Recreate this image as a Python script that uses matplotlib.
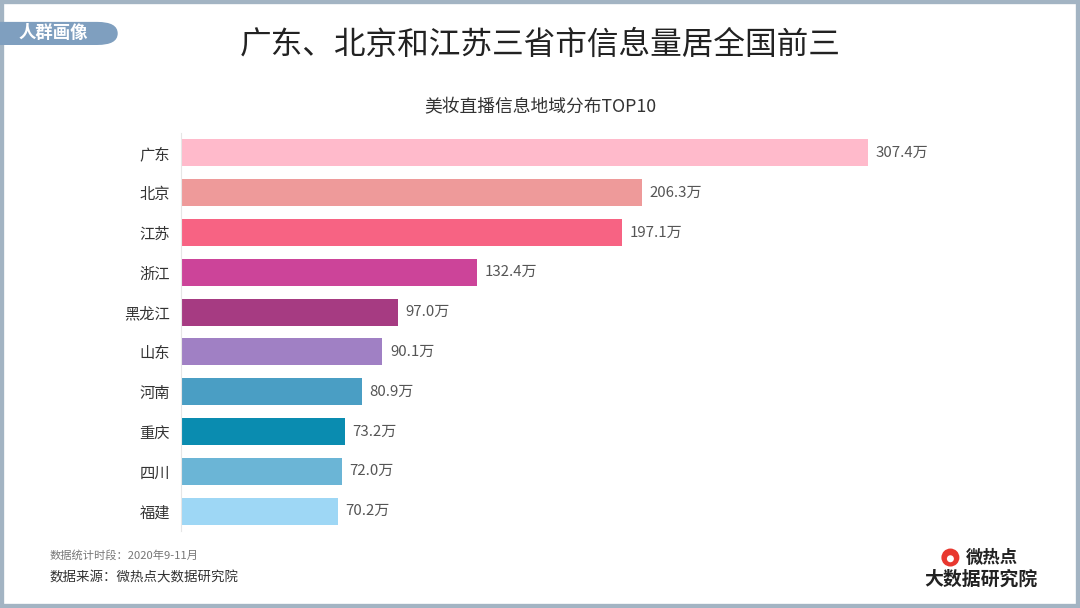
import matplotlib.pyplot as plt
from matplotlib.patches import FancyBboxPatch, Rectangle, Ellipse

plt.rcParams['font.family'] = ['Noto Sans CJK SC', 'DejaVu Sans']

# data
provinces = ['广东', '北京', '江苏', '浙江', '黑龙江', '山东', '河南', '重庆', '四川', '福建']
values = [307.4, 206.3, 197.1, 132.4, 97.0, 90.1, 80.9, 73.2, 72.0, 70.2]
colors = ['#FFBACB', '#EE9A9A', '#F76383', '#CC4499', '#A63B82',
          '#A080C4', '#4A9EC4', '#0A8CB0', '#6BB5D6', '#9ED7F5']

fig = plt.figure(figsize=(10.8, 6.08), dpi=100)
fig.patch.set_facecolor('white')

# frame around the picture
frame_c = '#A3B4C3'
fig.patches.append(Rectangle((0, 0), 1, 1, transform=fig.transFigure,
                             fill=False, edgecolor=frame_c, linewidth=6))

# badge at top left
fig.patches.append(FancyBboxPatch((-0.02, 0.926), 0.129, 0.038,
                                  boxstyle='round,pad=0,rounding_size=0.019',
                                  transform=fig.transFigure,
                                  facecolor='#7F9FBF', edgecolor='none'))
fig.text(0.017, 0.945, '人群画像', color='white', fontsize=12.5,
         fontweight='bold', va='center', ha='left')

fig.text(0.5, 0.926, '广东、北京和江苏三省市信息量居全国前三', fontsize=22.8,
         ha='center', va='center', color='#222222')
fig.text(0.5, 0.824, '美妆直播信息地域分布TOP10', fontsize=12.8,
         ha='center', va='center', color='#333333')

# bars
ax = fig.add_axes([181 / 1080, 1 - 531 / 608, 819 / 1080, 398 / 608])
y = range(len(provinces))
ax.barh(y, values, height=0.68, color=colors)
for i, v in enumerate(values):
    ax.text(v + 3.5, i, f'{v:.1f}万', va='center', ha='left',
            fontsize=10.8, color='#555555')

ax.set_xlim(0, 819 / 2.235)
ax.set_ylim(len(provinces) - 0.5, -0.5)
ax.set_yticks(list(y))
ax.set_yticklabels(provinces, fontsize=11, color='#333333')
ax.tick_params(axis='y', length=0, pad=8)
ax.set_xticks([])
for s in ['top', 'right', 'bottom']:
    ax.spines[s].set_visible(False)
ax.spines['left'].set_color('#E6E6E6')
ax.set_facecolor('none')

# footnotes
fig.text(0.046, 0.087, '数据统计时段：2020年9-11月', fontsize=8.1,
         color='#777777', va='center')
fig.text(0.046, 0.050, '数据来源：微热点大数据研究院', fontsize=9.7,
         color='#333333', va='center')

# logo
fig.patches.append(Ellipse((0.880, 0.083), 18 / 1080, 18 / 608,
                           transform=fig.transFigure,
                           facecolor='#E8382F', edgecolor='none'))
fig.patches.append(Ellipse((0.880, 0.081), 7 / 1080, 7 / 608,
                           transform=fig.transFigure,
                           facecolor='white', edgecolor='none'))
fig.text(0.894, 0.082, '微热点', fontsize=12.5, fontweight='bold',
         color='#222222', va='center')
fig.text(0.908, 0.047, '大数据研究院', fontsize=13.6, fontweight='bold',
         color='#222222', va='center', ha='center')

fig.savefig('out.png', dpi=100)
